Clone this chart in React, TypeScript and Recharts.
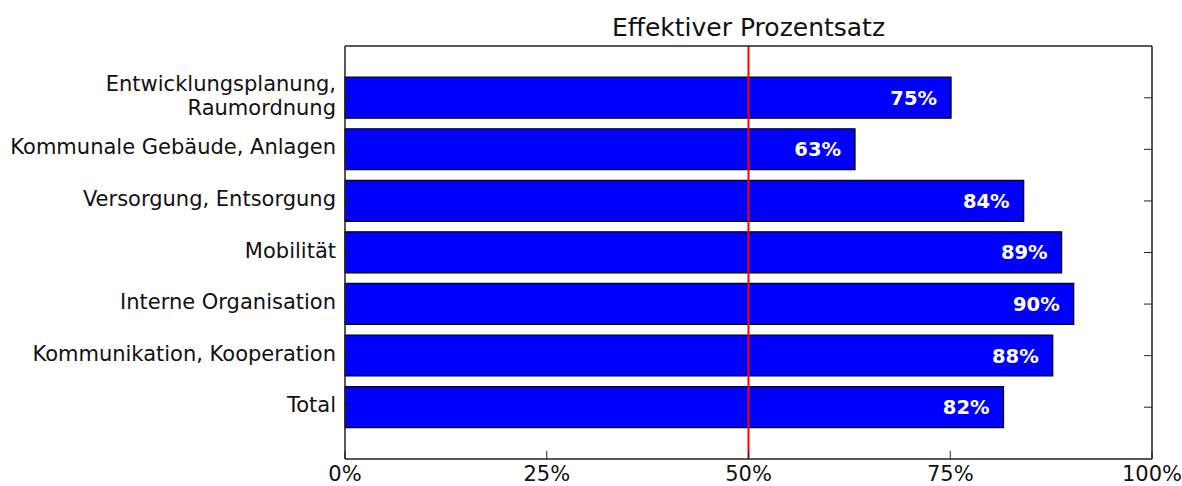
import { BarChart, Bar, XAxis, YAxis, ReferenceLine, LabelList } from 'recharts'

const categories = [
  'Entwicklungsplanung,\nRaumordnung',
  'Kommunale Gebäude, Anlagen',
  'Versorgung, Entsorgung',
  'Mobilität',
  'Interne Organisation',
  'Kommunikation, Kooperation',
  'Total',
]
const values = [0.751, 0.632, 0.841, 0.888, 0.903, 0.877, 0.816]
const xTicks = [0, 0.25, 0.5, 0.75, 1]
const threshold = 0.5

const data = categories.map((name, i) => ({ name, value: values[i] }))

const FONT = '"DejaVu Sans", sans-serif'
const FRAME = '#222'
const pct = (v: number) => `${Math.round(v * 100)}%`

// eslint-disable-next-line @typescript-eslint/no-explicit-any
const BottomTick = ({ x, y, payload }: any) => (
  <g>
    <line x1={x} y1={y} x2={x} y2={y - 8} stroke={FRAME} strokeWidth={1} />
    <text x={x} y={y + 22} textAnchor="middle" fontSize={21} fontFamily={FONT} fill="#111">
      {pct(payload.value)}
    </text>
  </g>
)

// eslint-disable-next-line @typescript-eslint/no-explicit-any
const TopTick = ({ x, y }: any) => <line x1={x} y1={y} x2={x} y2={y + 8} stroke={FRAME} strokeWidth={1} />

// eslint-disable-next-line @typescript-eslint/no-explicit-any
const LeftTick = ({ x, y, payload }: any) => {
  const lines = String(payload.value).split('\n')
  const first = lines.length > 1 ? -6.75 : 5
  return (
    <g>
      <line x1={x} y1={y} x2={x + 8} y2={y} stroke={FRAME} strokeWidth={1} />
      <text x={x - 9} y={y} textAnchor="end" fontSize={21} fontFamily={FONT} fill="#111">
        {lines.map((l, i) => (
          <tspan key={i} x={x - 9} y={y + first + i * 24.3}>{l}</tspan>
        ))}
      </text>
    </g>
  )
}

// eslint-disable-next-line @typescript-eslint/no-explicit-any
const RightTick = ({ x, y }: any) => <line x1={x} y1={y} x2={x - 8} y2={y} stroke={FRAME} strokeWidth={1} />

// eslint-disable-next-line @typescript-eslint/no-explicit-any
const BarLabel = ({ x, y, width, height, value }: any) => (
  <text
    x={x + width - 14}
    y={y + height / 2}
    dy={7}
    textAnchor="end"
    fontSize={19.5}
    fontWeight="bold"
    fontFamily={FONT}
    fill="#fff"
  >
    {pct(value)}
  </text>
)

export default function App() {
  return (
    <div style={{ position: 'absolute', left: 0, top: 0, width: 1182, height: 486, background: '#fff' }}>
      <div
        style={{
          position: 'absolute',
          left: 345,
          width: 807,
          top: 15,
          textAlign: 'center',
          fontFamily: FONT,
          fontSize: 25,
          lineHeight: '25px',
          color: '#111',
        }}
      >
        Effektiver Prozentsatz
      </div>
      <BarChart
        width={1182}
        height={486}
        data={data}
        layout="vertical"
        margin={{ top: 45, right: 29, bottom: 0, left: 0 }}
        barCategoryGap="10%"
      >
        <XAxis
          type="number"
          domain={[0, 1]}
          ticks={xTicks}
          height={27}
          tickSize={0}
          tickMargin={0}
          tickLine={false}
          axisLine={{ stroke: FRAME, strokeWidth: 1.5 }}
          tick={<BottomTick />}
          interval={0}
        />
        <XAxis
          xAxisId="top"
          orientation="top"
          type="number"
          domain={[0, 1]}
          ticks={xTicks}
          height={1}
          tickSize={0}
          tickMargin={0}
          tickLine={false}
          axisLine={{ stroke: FRAME, strokeWidth: 1.5 }}
          tick={<TopTick />}
          interval={0}
        />
        <YAxis
          type="category"
          dataKey="name"
          width={345}
          padding={{ top: 26, bottom: 26 }}
          tickSize={0}
          tickMargin={0}
          tickLine={false}
          axisLine={{ stroke: FRAME, strokeWidth: 1.5 }}
          tick={<LeftTick />}
          interval={0}
        />
        <YAxis
          yAxisId="right"
          orientation="right"
          type="category"
          dataKey="name"
          width={1}
          padding={{ top: 26, bottom: 26 }}
          tickSize={0}
          tickMargin={0}
          tickLine={false}
          axisLine={{ stroke: FRAME, strokeWidth: 1.5 }}
          tick={<RightTick />}
          interval={0}
        />
        <Bar dataKey="value" fill="#0000ff" stroke="#000" strokeWidth={1.2} isAnimationActive={false}>
          <LabelList dataKey="value" content={<BarLabel />} />
        </Bar>
        <ReferenceLine x={threshold} stroke="#ff0000" strokeWidth={2} />
      </BarChart>
    </div>
  )
}
